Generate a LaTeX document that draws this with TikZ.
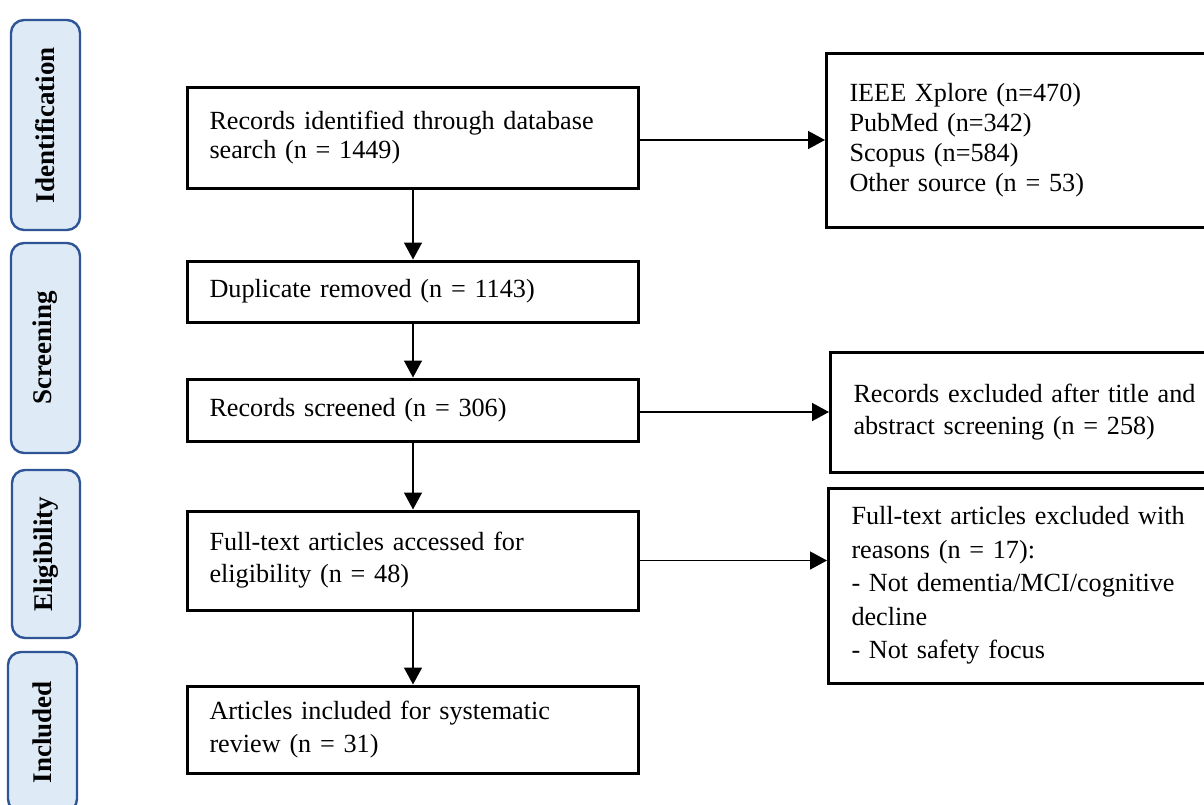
\documentclass[tikz,border=0pt]{standalone}
\usepackage{fontspec}
\setmainfont{Liberation Serif}
\usetikzlibrary{arrows.meta}
\definecolor{tabfill}{RGB}{222,235,247}
\definecolor{tabline}{RGB}{47,85,151}
\begin{document}
\begin{tikzpicture}[x=0.5pt,y=-0.5pt,
  box/.style={draw=black, line width=1.5pt, anchor=west, align=left,
    inner xsep=11pt, inner ysep=0pt, font=\fontsize{13.1}{16}\selectfont},
  sidebox/.style={box, inner xsep=11.5pt, text width=190pt},
  phase/.style={draw=tabline, fill=tabfill, line width=1.2pt, rounded corners=6.5pt,
    rotate=90, inner sep=0pt, font=\fontsize{13.5}{16}\selectfont\bfseries},
  flow/.style={line width=0.75pt, -{Triangle[length=8.5pt,width=9pt]}}]
\clip (0,0) rectangle (1204,804);
\fill[white] (0,0) rectangle (1204,804);

% phase tabs on the left
\node[phase, minimum width=105pt, minimum height=34.5pt] (idf) at (45.5,125) {Identification};
\node[phase, minimum width=105pt, minimum height=34.5pt] (scr) at (45.5,348) {Screening};
\node[phase, minimum width=84pt, minimum height=34pt] (eli) at (46,554) {Eligibility};
\node[phase, minimum width=80pt, minimum height=34.5pt] (inc) at (42.5,732) {Included};

% main flow
\node[box, text width=203.5pt, minimum height=50.5pt, font=\fontsize{13.1}{14.5}\selectfont]
  (b1) at (186,137.5) {Records identified through database\\search (n = 1449)};
\node[box, text width=203.5pt, minimum height=30.5pt] (b2) at (186,291.5) {Duplicate removed (n = 1143)};
\node[box, text width=203.5pt, minimum height=31pt] (b3) at (186,410) {Records screened (n = 306)};
\node[box, text width=203.5pt, minimum height=49.5pt] (b4) at (186,560.5) {Full-text articles accessed for\\eligibility (n = 48)};
\node[box, text width=203.5pt, minimum height=43.5pt, font=\fontsize{13.1}{16.5}\selectfont]
  (b5) at (186,729.5) {Articles included for systematic\\review (n = 31)};

% side boxes
\node[sidebox, minimum height=87pt, font=\fontsize{13.1}{15}\selectfont]
  (src) at (825,140) {IEEE Xplore (n=470)\\PubMed (n=342)\\Scopus (n=584)\\Other source (n = 53)};
\node[sidebox, minimum height=60pt] (ex1) at (829,412) {Records excluded after title and\\abstract screening (n = 258)};
\node[sidebox, minimum height=97.5pt, font=\fontsize{13.1}{16.75}\selectfont]
  (ex2) at (827,585.5) {Full-text articles excluded with\\reasons (n = 17):\\- Not dementia/MCI/cognitive\\decline\\- Not safety focus};

% connectors
\draw[flow] (b1.south) -- (b2.north);
\draw[flow] (b2.south) -- (b3.north);
\draw[flow] (b3.south) -- (b4.north);
\draw[flow] (b4.south) -- (b5.north);
\draw[flow] (b1.east |- src.west) -- (src.west);
\draw[flow] (b3.east |- ex1.west) -- (ex1.west);
\draw[flow] (b4.east) -- (b4.east -| ex2.west);
\end{tikzpicture}
\end{document}
